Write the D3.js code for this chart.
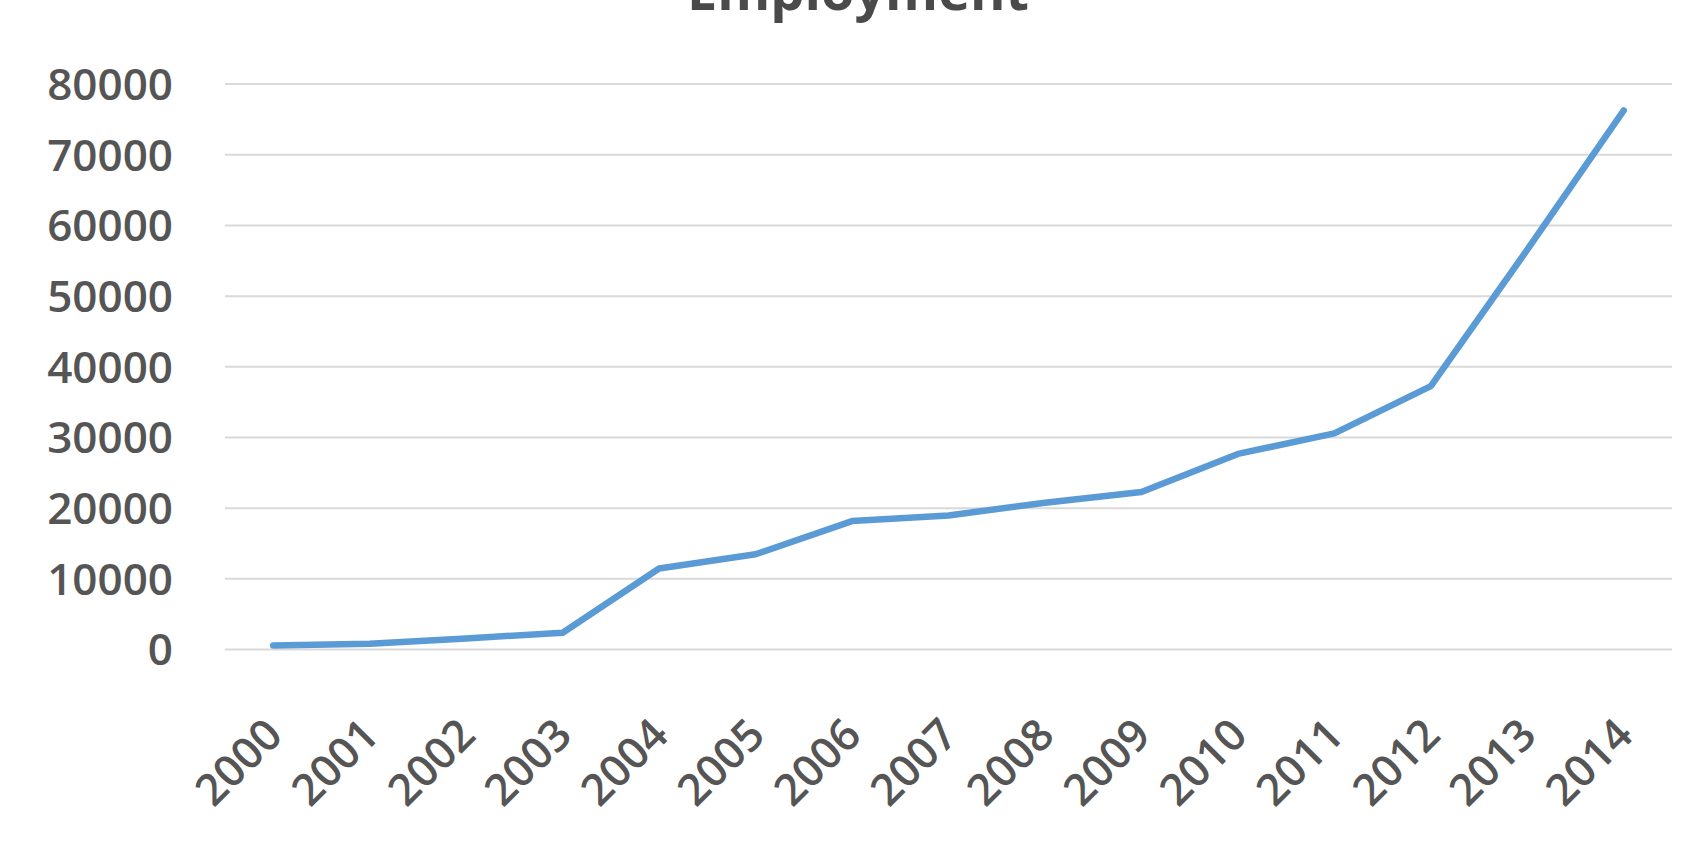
<!DOCTYPE html>
<html>
<head>
<meta charset="utf-8">
<script src="https://cdn.jsdelivr.net/npm/d3@7"></script>
<style>
  html, body { margin: 0; padding: 0; background: #ffffff; }
  svg { display: block; }
</style>
</head>
<body>
<script>
const years = ["2000","2001","2002","2003","2004","2005","2006","2007","2008","2009","2010","2011","2012","2013","2014"];
const employment = [500, 750, 1500, 2300, 11400, 13400, 18100, 18900, 20700, 22200, 27600, 30500, 37200, 56500, 76200];
const yTicks = [0, 10000, 20000, 30000, 40000, 50000, 60000, 70000, 80000];
const titleText = "Employment";

const W = 1706, H = 857;
const plotLeft = 225, plotRight = 1672, plotTop = 83.6, plotBottom = 649;

const svg = d3.select("body").append("svg").attr("width", W).attr("height", H);
svg.append("rect").attr("width", W).attr("height", H).attr("fill", "#ffffff");

const x = d3.scaleBand().domain(years).range([plotLeft, plotRight]).padding(0);
const y = d3.scaleLinear().domain([0, 80000]).range([plotBottom, plotTop]);
const cx = d => x(d) + x.bandwidth() / 2;

const font = "'Open Sans', 'Liberation Sans', sans-serif";

// gridlines + y labels
const yAxis = d3.axisLeft(y).tickValues(yTicks).tickSize(-(plotRight - plotLeft)).tickPadding(52).tickFormat(d3.format("d"));
const gy = svg.append("g").attr("transform", `translate(${plotLeft},0)`).call(yAxis);
gy.select(".domain").remove();
gy.selectAll(".tick line").attr("stroke", "#d9d9d9").attr("stroke-width", 2);
gy.selectAll(".tick text")
  .attr("fill", "#555555")
  .attr("font-family", font)
  .attr("font-weight", 600)
  .attr("font-size", 44)
  .attr("dy", "0.36em");

// x axis labels
const xAxis = d3.axisBottom(x).tickSize(0).tickFormat(d => d);
const gx = svg.append("g").attr("transform", `translate(0,${plotBottom})`).call(xAxis);
gx.select(".domain").remove();
gx.selectAll(".tick text")
  .attr("fill", "#555555")
  .attr("font-family", font)
  .attr("font-weight", 600)
  .attr("font-size", 44)
  .attr("text-anchor", "middle")
  .attr("dominant-baseline", "central")
  .attr("x", 0).attr("y", 0).attr("dy", null)
  .attr("transform", "translate(-36,112) rotate(-45)");

// line
const line = d3.line().x((d, i) => cx(years[i])).y(d => y(d));
svg.append("path")
  .datum(employment)
  .attr("d", line)
  .attr("fill", "none")
  .attr("stroke", "#5b9bd5")
  .attr("stroke-width", 6.5)
  .attr("stroke-linejoin", "round")
  .attr("stroke-linecap", "round");

// title (partially cut off at top, as in the reference)
svg.append("text")
  .attr("x", 858).attr("y", 9.5)
  .attr("text-anchor", "middle")
  .attr("fill", "#4a4a4a")
  .attr("font-family", font)
  .attr("font-weight", 700)
  .attr("font-size", 54)
  .text(titleText);
</script>
</body>
</html>
